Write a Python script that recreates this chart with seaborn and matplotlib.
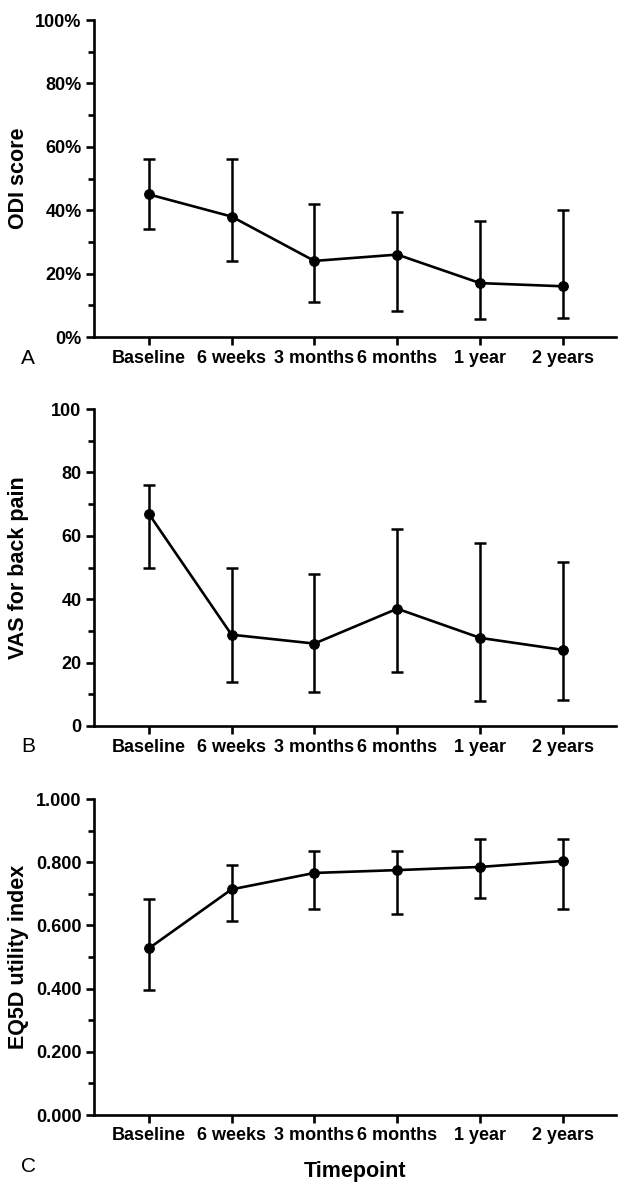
import numpy as np
import pandas as pd
import matplotlib
matplotlib.use("Agg")
import matplotlib.pyplot as plt
import seaborn as sns
from matplotlib.ticker import AutoMinorLocator, FuncFormatter

# --------------------------------------------
# DATA
# --------------------------------------------
timepoints = ["Baseline", "6 weeks", "3 months", "6 months", "1 year", "2 years"]

odi_mean = [45, 38, 24, 26, 17, 16]
odi_low = [34, 24, 11, 8.2, 5.7, 6]
odi_high = [56, 56, 42, 39.5, 36.5, 40]

vas_mean = [67, 28.8, 26, 37, 27.8, 24]
vas_low = [49.7, 13.9, 10.8, 16.9, 8, 8.2]
vas_high = [76, 50, 48, 62, 57.8, 51.8]

eq5d_mean = [0.527, 0.714, 0.766, 0.775, 0.785, 0.804]
eq5d_low = [0.394, 0.615, 0.652, 0.637, 0.687, 0.651]
eq5d_high = [0.684, 0.791, 0.834, 0.837, 0.875, 0.875]

# --------------------------------------------
# STYLE
# --------------------------------------------
sns.set_theme(style="ticks")
plt.rcParams["font.family"] = ["Liberation Sans", "DejaVu Sans"]

fig = plt.figure(figsize=(6.18, 11.82), dpi=100)

W, H = 618, 1182
left = 94 / W
width = (616 - 94) / W
panels = [
    # top px, bottom px
    (20, 337),
    (409, 726),
    (799, 1115),
]

specs = [
    (odi_mean, odi_low, odi_high, "ODI score", 100, lambda v, p: f"{v:.0f}%", "A"),
    (vas_mean, vas_low, vas_high, "VAS for back pain", 100, lambda v, p: f"{v:.0f}", "B"),
    (eq5d_mean, eq5d_low, eq5d_high, "EQ5D utility index", 1.0, lambda v, p: f"{v:.3f}", "C"),
]

x = np.arange(len(timepoints))

for (top, bot), (mean, low, high, ylab, ymax, fmt, letter) in zip(panels, specs):
    ax = fig.add_axes([left, 1 - bot / H, width, (bot - top) / H])
    df = pd.DataFrame({"x": x, "y": mean})
    mean = np.array(mean)
    yerr = np.vstack([mean - np.array(low), np.array(high) - mean])
    ax.errorbar(x, mean, yerr=yerr, fmt="none", ecolor="black",
                elinewidth=1.8, capsize=4, capthick=1.8, zorder=2)
    sns.lineplot(data=df, x="x", y="y", ax=ax, color="black", linewidth=1.9,
                 marker="o", markersize=7, markeredgecolor="black", zorder=3)

    ax.set_xlim(-0.66, 5.64)
    ax.set_ylim(0, ymax)
    ax.set_yticks(np.linspace(0, ymax, 6))
    ax.yaxis.set_minor_locator(AutoMinorLocator(2))
    ax.yaxis.set_major_formatter(FuncFormatter(fmt))
    ax.set_xticks(x)
    ax.set_xticklabels(timepoints)

    for s in ["top", "right"]:
        ax.spines[s].set_visible(False)
    for s in ["left", "bottom"]:
        ax.spines[s].set_linewidth(1.9)
        ax.spines[s].set_color("black")

    ax.tick_params(axis="both", which="major", length=6, width=1.9,
                   color="black", labelsize=13, pad=3)
    ax.tick_params(axis="y", which="minor", length=4, width=1.9, color="black")
    for lbl in ax.get_xticklabels() + ax.get_yticklabels():
        lbl.set_fontweight("bold")
        lbl.set_color("black")

    ax.set_xlabel("")
    ax.set_ylabel(ylab, fontsize=15.5, fontweight="bold", color="black")
    ax.yaxis.set_label_coords(-0.125, 0.5)

    label_y = bot + 21
    if letter == "C":
        label_y = 1167
    fig.text(28 / W, 1 - label_y / H, letter, fontsize=15, ha="center",
             va="center", color="black")

fig.text((94 + 616) / 2 / W, 1 - 1172 / H, "Timepoint", fontsize=15.5,
         fontweight="bold", ha="center", va="center", color="black")

fig.savefig("out.png", dpi=100)
